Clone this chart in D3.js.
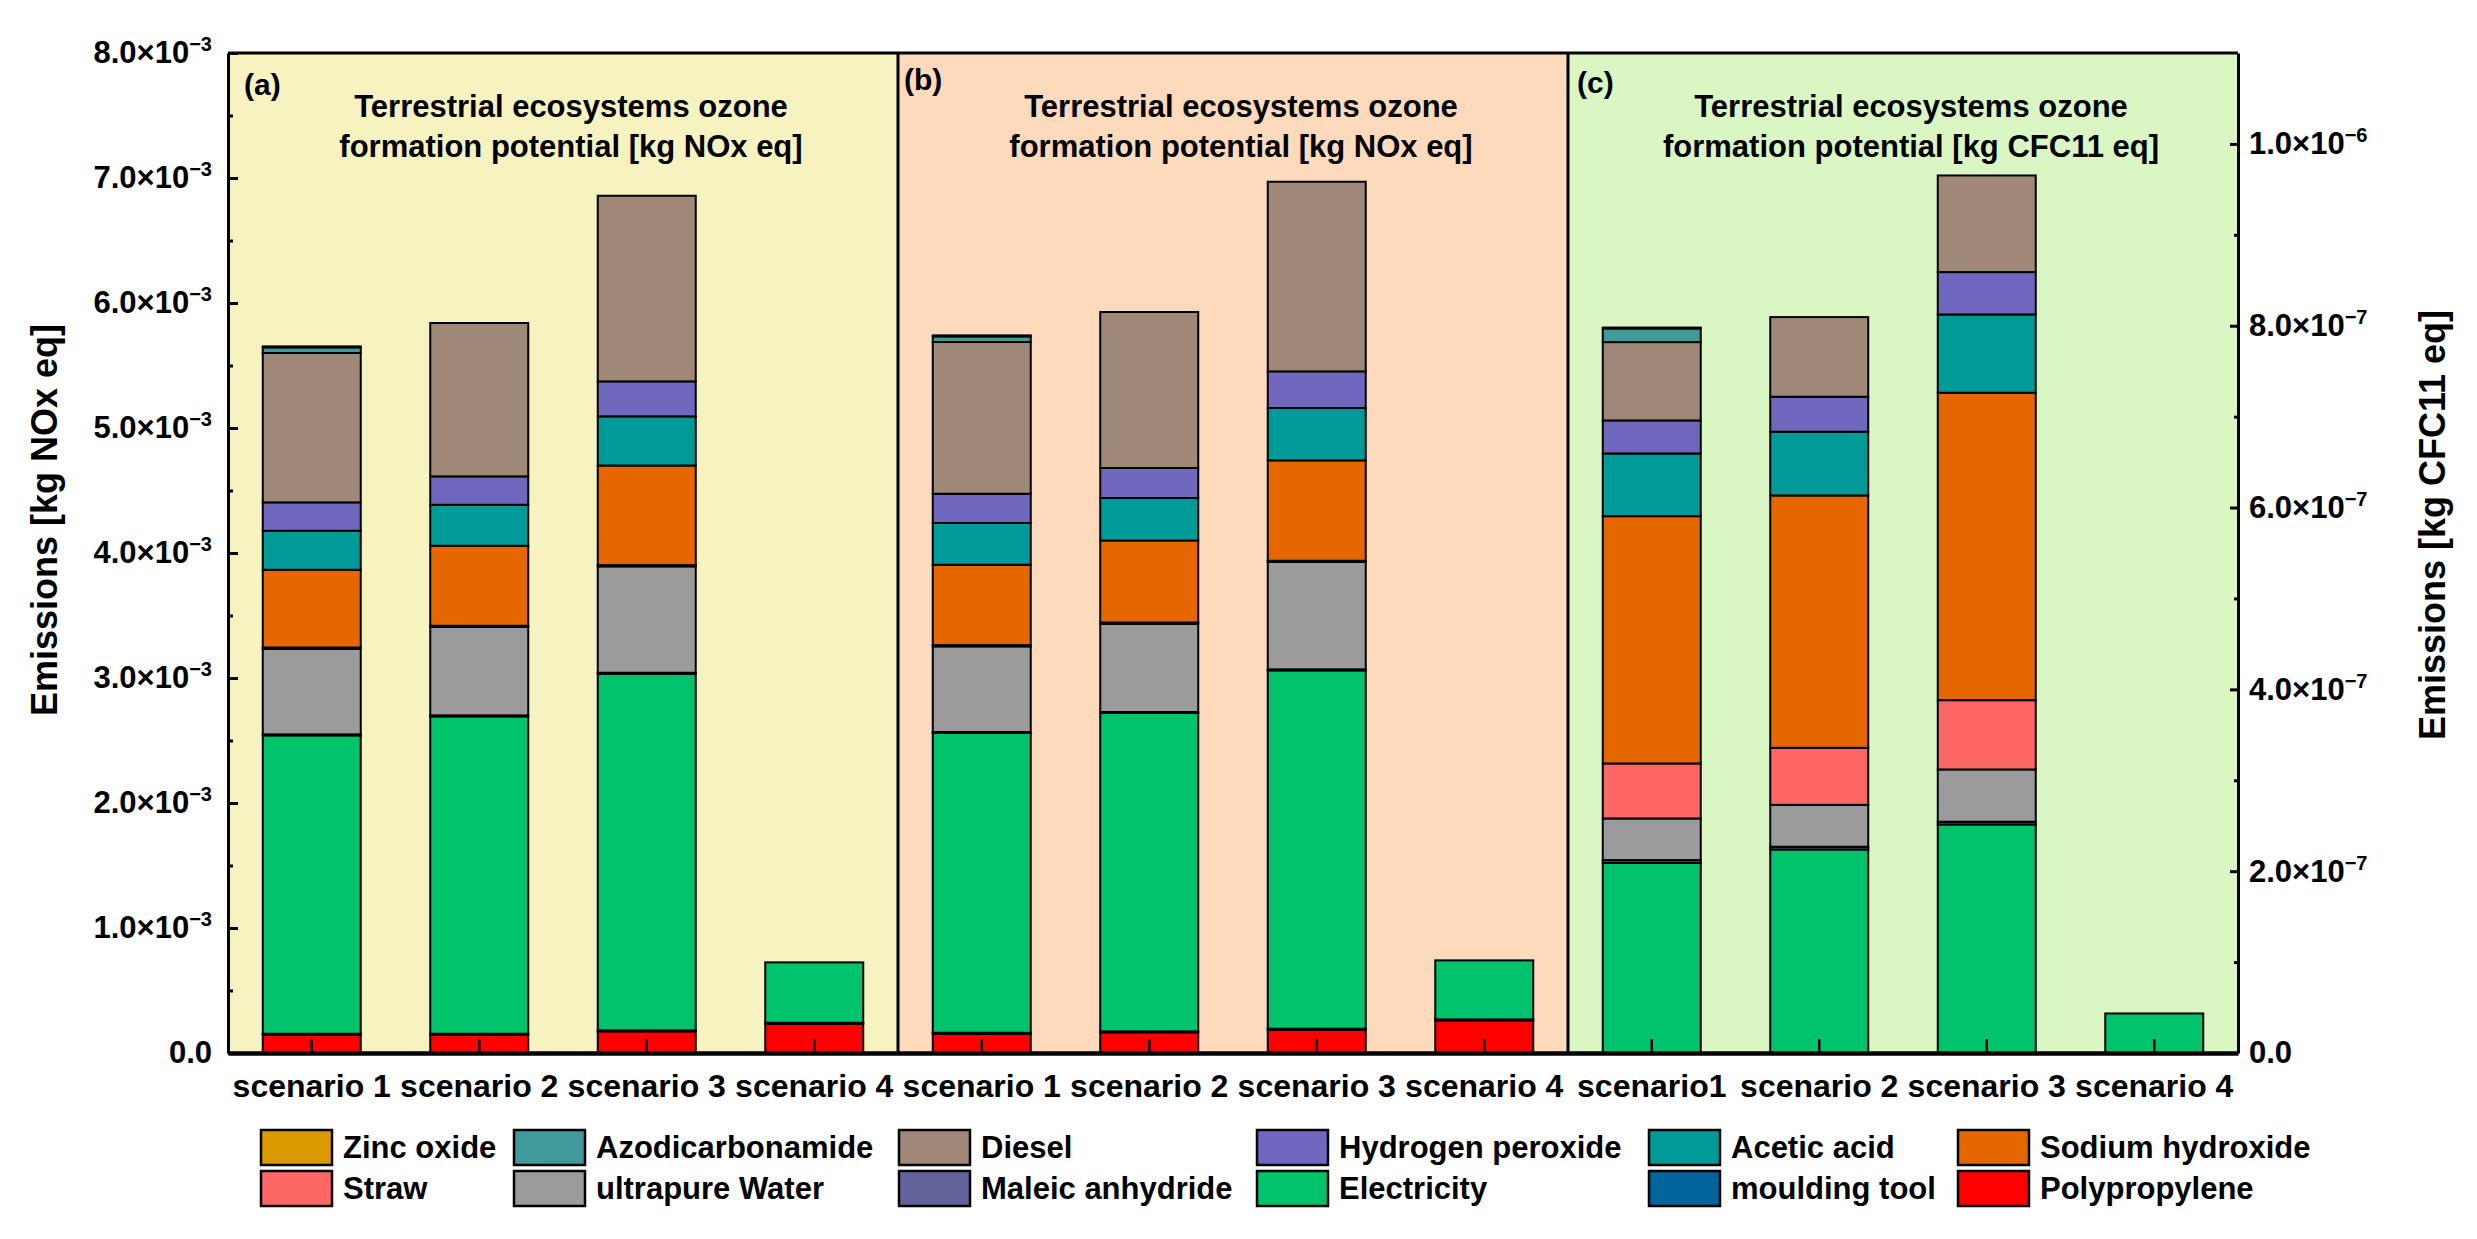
<!DOCTYPE html>
<html>
<head>
<meta charset="utf-8">
<script src="https://cdn.jsdelivr.net/npm/d3@7"></script>
<style>
  body { margin: 0; background: #fff; }
  svg text { font-family: "Liberation Sans", Arial, sans-serif; font-weight: bold; fill: #000; }
</style>
</head>
<body>
<div id="chart"></div>
<script>
// categories: 4 scenarios in each of the 3 panels
const categories = ["a1", "a2", "a3", "a4", "b1", "b2", "b3", "b4", "c1", "c2", "c3", "c4"];
const xLabels = ["scenario 1", "scenario 2", "scenario 3", "scenario 4",
                 "scenario 1", "scenario 2", "scenario 3", "scenario 4",
                 "scenario1", "scenario 2", "scenario 3", "scenario 4"];
const panelIds = ["(a)", "(b)", "(c)"];
const panelTitles = [
  ["Terrestrial ecosystems ozone", "formation potential [kg NOx eq]"],
  ["Terrestrial ecosystems ozone", "formation potential [kg NOx eq]"],
  ["Terrestrial ecosystems ozone", "formation potential [kg CFC11 eq]"]
];
const panelColors = ["#f7f3c0", "#fedabd", "#daf7c3"];

const leftTicks = [0, 1e-3, 2e-3, 3e-3, 4e-3, 5e-3, 6e-3, 7e-3, 8e-3];
const leftMinor = [0.5e-3, 1.5e-3, 2.5e-3, 3.5e-3, 4.5e-3, 5.5e-3, 6.5e-3, 7.5e-3];
const rightTicks = [0, 2e-7, 4e-7, 6e-7, 8e-7, 1e-6];
const rightMinor = [1e-7, 3e-7, 5e-7, 7e-7, 9e-7];

// stacking order, bottom to top
const seriesNames = ["Polypropylene", "moulding tool", "Electricity", "Maleic anhydride", "ultrapure Water",
                     "Straw", "Sodium hydroxide", "Acetic acid", "Hydrogen peroxide", "Diesel",
                     "Azodicarbonamide", "Zinc oxide"];
const seriesColors = ["#ff0000", "#00659c", "#00c36c", "#63639b", "#9b9b9b",
                      "#ff6666", "#e66700", "#009b99", "#6f68be", "#a08878",
                      "#41999a", "#db9a00"];
const legendOrder = ["Zinc oxide", "Azodicarbonamide", "Diesel", "Hydrogen peroxide", "Acetic acid", "Sodium hydroxide",
                     "Straw", "ultrapure Water", "Maleic anhydride", "Electricity", "moulding tool", "Polypropylene"];

// values in kg (panels a, b: NOx eq ; panel c: CFC11 eq)
const polypropylene    = [0.146e-3, 0.146e-3, 0.173e-3, 0.234e-3, 0.154e-3, 0.165e-3, 0.186e-3, 0.261e-3, 0, 0, 0, 0];
const mouldingTool     = [0.008e-3, 0.008e-3, 0.008e-3, 0.008e-3, 0.008e-3, 0.008e-3, 0.008e-3, 0.008e-3, 0, 0, 0, 0];
const electricity      = [2.387e-3, 2.539e-3, 2.853e-3, 0.483e-3, 2.398e-3, 2.547e-3, 2.867e-3, 0.472e-3, 2.092e-7, 2.239e-7, 2.514e-7, 0.435e-7];
const maleicAnhydride  = [0.008e-3, 0.008e-3, 0.008e-3, 0, 0.008e-3, 0.008e-3, 0.008e-3, 0, 0.03e-7, 0.03e-7, 0.03e-7, 0];
const ultrapureWater   = [0.685e-3, 0.707e-3, 0.851e-3, 0, 0.685e-3, 0.706e-3, 0.859e-3, 0, 0.458e-7, 0.461e-7, 0.575e-7, 0];
const straw            = [0.010e-3, 0.010e-3, 0.010e-3, 0, 0.010e-3, 0.010e-3, 0.010e-3, 0, 0.605e-7, 0.627e-7, 0.762e-7, 0];
const sodiumHydroxide  = [0.622e-3, 0.640e-3, 0.797e-3, 0, 0.643e-3, 0.656e-3, 0.803e-3, 0, 2.72e-7, 2.776e-7, 3.382e-7, 0];
const aceticAcid       = [0.312e-3, 0.328e-3, 0.393e-3, 0, 0.334e-3, 0.340e-3, 0.419e-3, 0, 0.69e-7, 0.701e-7, 0.861e-7, 0];
const hydrogenPeroxide = [0.227e-3, 0.227e-3, 0.280e-3, 0, 0.234e-3, 0.240e-3, 0.293e-3, 0, 0.363e-7, 0.385e-7, 0.466e-7, 0];
const diesel           = [1.195e-3, 1.227e-3, 1.485e-3, 0, 1.214e-3, 1.248e-3, 1.517e-3, 0, 0.862e-7, 0.876e-7, 1.063e-7, 0];
const azodicarbonamide = [0.045e-3, 0, 0, 0, 0.045e-3, 0, 0, 0, 0.15e-7, 0, 0, 0];
const zincOxide        = [0.008e-3, 0, 0, 0, 0.008e-3, 0, 0, 0, 0.01e-7, 0, 0, 0];

const seriesValues = [polypropylene, mouldingTool, electricity, maleicAnhydride, ultrapureWater, straw,
                      sodiumHydroxide, aceticAcid, hydrogenPeroxide, diesel, azodicarbonamide, zincOxide];

document.addEventListener('DOMContentLoaded', () => {
  try {
    const width = 2477;
    const height = 1239;
    const plot = { left: 228, right: 2238, top: 53, bottom: 1053 };

    const svg = d3.select("#chart").append("svg")
      .attr("width", width)
      .attr("height", height);

    svg.append("rect").attr("width", width).attr("height", height).attr("fill", "#fff");

    const x = d3.scaleBand()
      .domain(categories)
      .range([plot.left, plot.right])
      .paddingInner(0.415)
      .paddingOuter(0.2075);

    const yLeft = d3.scaleLinear().domain([0, 8e-3]).range([plot.bottom, plot.top]);
    const yRight = d3.scaleLinear().domain([0, 1.1e-6]).range([plot.bottom, plot.top]);
    const panelOf = i => Math.floor(i / 4);
    const yFor = i => panelOf(i) === 2 ? yRight : yLeft;

    // panel edges
    const step = x.step();
    const edges = [0, 1, 2, 3].map(p => plot.left + p * 4 * step);

    // backgrounds
    svg.append("g").selectAll("rect")
      .data(panelColors)
      .join("rect")
      .attr("x", (d, p) => edges[p])
      .attr("y", plot.top)
      .attr("width", (d, p) => edges[p + 1] - edges[p])
      .attr("height", plot.bottom - plot.top)
      .attr("fill", d => d);

    // stacked bars
    const rows = categories.map((c, i) => {
      const r = { cat: c, idx: i };
      seriesNames.forEach((s, k) => { r[s] = seriesValues[k][i]; });
      return r;
    });
    const stacked = d3.stack().keys(seriesNames)(rows);

    svg.append("g").selectAll("g")
      .data(stacked)
      .join("g")
      .attr("fill", (d, k) => seriesColors[k])
      .selectAll("rect")
      .data(d => d.filter(v => v[1] - v[0] > 0))
      .join("rect")
      .attr("x", d => x(d.data.cat))
      .attr("width", x.bandwidth())
      .attr("y", d => yFor(d.data.idx)(d[1]))
      .attr("height", d => yFor(d.data.idx)(d[0]) - yFor(d.data.idx)(d[1]))
      .attr("stroke", "#000")
      .attr("stroke-width", 2);

    // frame: top line and separators
    svg.append("line")
      .attr("x1", plot.left).attr("x2", plot.right)
      .attr("y1", plot.top).attr("y2", plot.top)
      .attr("stroke", "#000").attr("stroke-width", 3);
    svg.append("g").selectAll("line")
      .data([edges[1], edges[2]])
      .join("line")
      .attr("x1", d => d).attr("x2", d => d)
      .attr("y1", plot.top).attr("y2", plot.bottom)
      .attr("stroke", "#000").attr("stroke-width", 3);

    // tick label formatting with superscript exponent
    const sciLabel = function (d) {
      const t = d3.select(this);
      t.text(null);
      if (d === 0) { t.text("0.0"); return; }
      const exp = Math.floor(Math.log10(d) + 1e-9);
      const mant = (d / Math.pow(10, exp)).toFixed(1);
      t.append("tspan").text(mant + "×10");
      t.append("tspan").attr("dy", "-0.6em").attr("font-size", "20px").text("−" + (-exp));
    };

    // left axis
    const gl = svg.append("g").attr("transform", `translate(${plot.left},0)`);
    gl.call(d3.axisLeft(yLeft).tickValues(leftTicks).tickSize(-10).tickSizeOuter(0).tickPadding(16));
    gl.selectAll(".tick text").attr("font-size", "31px").each(sciLabel);
    gl.selectAll(".tick line").attr("stroke-width", 3);
    gl.select(".domain").attr("stroke-width", 3);
    svg.append("g").attr("transform", `translate(${plot.left},0)`)
      .call(d3.axisLeft(yLeft).tickValues(leftMinor).tickSize(-5).tickFormat(""))
      .call(g => g.select(".domain").remove())
      .selectAll(".tick line").attr("stroke-width", 3);

    // right axis
    const gr = svg.append("g").attr("transform", `translate(${plot.right},0)`);
    gr.call(d3.axisRight(yRight).tickValues(rightTicks).tickSize(-8).tickSizeOuter(0).tickPadding(11));
    gr.selectAll(".tick text").attr("font-size", "31px").each(sciLabel);
    gr.selectAll(".tick line").attr("stroke-width", 3);
    gr.select(".domain").attr("stroke-width", 3);
    svg.append("g").attr("transform", `translate(${plot.right},0)`)
      .call(d3.axisRight(yRight).tickValues(rightMinor).tickSize(-4).tickFormat(""))
      .call(g => g.select(".domain").remove())
      .selectAll(".tick line").attr("stroke-width", 3);

    // bottom axis
    const gb = svg.append("g").attr("transform", `translate(0,${plot.bottom})`);
    gb.call(d3.axisBottom(x).tickSize(-14).tickSizeOuter(0).tickPadding(21)
      .tickFormat((d, i) => xLabels[i]));
    gb.selectAll(".tick text").attr("font-size", "32px");
    gb.selectAll(".tick line").attr("stroke-width", 2.5);
    gb.select(".domain").attr("stroke-width", 4.5);

    // axis titles
    svg.append("text")
      .attr("transform", "translate(57,520) rotate(-90)")
      .attr("text-anchor", "middle")
      .attr("font-size", "36px")
      .text("Emissions [kg NOx eq]");
    svg.append("text")
      .attr("transform", "translate(2445,525) rotate(-90)")
      .attr("text-anchor", "middle")
      .attr("font-size", "36px")
      .text("Emissions [kg CFC11 eq]");

    // panel ids and titles
    const idOffsets = [[16, 95], [6, 90], [9, 93]];
    panelIds.forEach((id, p) => {
      svg.append("text")
        .attr("x", edges[p] + idOffsets[p][0])
        .attr("y", idOffsets[p][1])
        .attr("font-size", "30px")
        .text(id);
      const cx = (edges[p] + edges[p + 1]) / 2 + 8;
      const t = svg.append("text")
        .attr("text-anchor", "middle")
        .attr("font-size", "31px");
      t.append("tspan").attr("x", cx).attr("y", 117).text(panelTitles[p][0]);
      t.append("tspan").attr("x", cx).attr("y", 157).text(panelTitles[p][1]);
    });

    // legend (6 columns x 2 rows)
    const legendCols = [261, 514, 899, 1257, 1649, 1958];
    const legendRows = [1130, 1171];
    const legend = svg.append("g").selectAll("g")
      .data(legendOrder)
      .join("g")
      .attr("transform", (d, i) => `translate(${legendCols[i % 6]},${legendRows[Math.floor(i / 6)]})`);
    legend.append("rect")
      .attr("width", 71)
      .attr("height", 35)
      .attr("fill", d => seriesColors[seriesNames.indexOf(d)])
      .attr("stroke", "#000")
      .attr("stroke-width", 2.5);
    legend.append("text")
      .attr("x", 82)
      .attr("y", 28)
      .attr("font-size", "31px")
      .text(d => d);

  } catch (error) {
    console.error("An error occurred:", error);
  }
});
</script>
</body>
</html>
